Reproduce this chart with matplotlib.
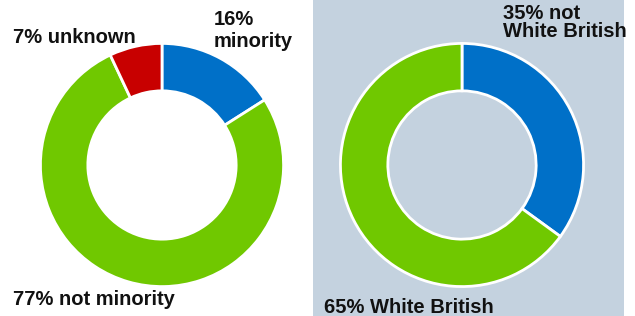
import matplotlib.pyplot as plt

W, H = 635, 316

left_labels = ["minority", "not minority", "unknown"]
left_values = [16, 77, 7]
right_labels = ["not White British", "White British"]
right_values = [35, 65]

blue = "#0070c8"
green = "#70c800"
red = "#c80000"
panel_bg = "#c4d2df"

fig = plt.figure(figsize=(W / 100, H / 100), dpi=100)
fig.patch.set_facecolor("white")

# shaded panel behind the right donut
bg = fig.add_axes([313 / W, 0, (624 - 313) / W, 1])
bg.set_facecolor(panel_bg)
bg.set_xticks([])
bg.set_yticks([])
for s in bg.spines.values():
    s.set_visible(False)


def donut(cx, cy, r, values, colors):
    ax = fig.add_axes([(cx - r) / W, 1 - (cy + r) / H, 2 * r / W, 2 * r / H])
    ax.pie(values, colors=colors, startangle=90, counterclock=False,
           wedgeprops=dict(width=0.39, edgecolor="white", linewidth=2))
    ax.set_xlim(-1.02, 1.02)
    ax.set_ylim(-1.02, 1.02)
    ax.set_aspect("equal")
    ax.axis("off")
    return ax


donut(162, 165, 124, left_values, [blue, green, red])
donut(462, 165, 124, right_values, [blue, green])

font = dict(family=["Liberation Sans", "DejaVu Sans"], fontweight="bold",
            fontsize=14.5, color="#111111")


def label(x, y, s):
    # x, y: left edge and baseline in pixels from the top-left corner
    fig.text(x / W, 1 - y / H, s, va="baseline", ha="left", **font)


label(13, 43, "%d%% %s" % (left_values[2], left_labels[2]))
label(214, 25, "%d%%" % left_values[0])
label(214, 47, left_labels[0])
label(13, 305, "%d%% %s" % (left_values[1], left_labels[1]))
label(503, 19, "%d%% not" % right_values[0])
label(503, 37, "White British")
label(324, 313, "%d%% %s" % (right_values[1], right_labels[1]))

fig.savefig("out.png", dpi=100)
